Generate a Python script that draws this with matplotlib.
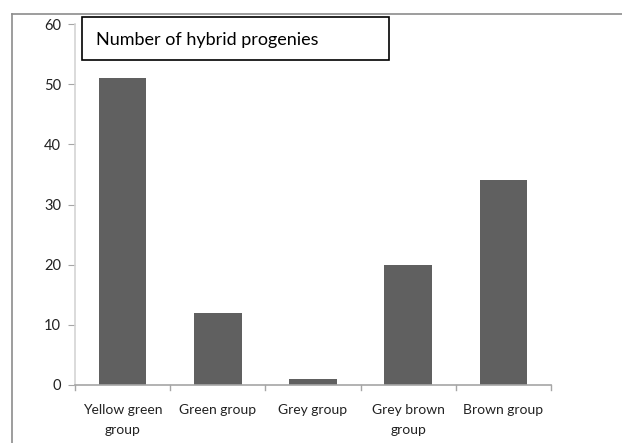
import matplotlib
matplotlib.use("Agg")
import matplotlib.pyplot as plt
from matplotlib.patches import Rectangle
from matplotlib.lines import Line2D

categories = ["Yellow green\ngroup", "Green group", "Grey group", "Grey brown\ngroup", "Brown group"]
counts = [51, 12, 1, 20, 34]
y_ticks = [0, 10, 20, 30, 40, 50, 60]
title = "Number of hybrid progenies"

W, H = 622, 443
plt.rcParams["font.family"] = ["Lato", "DejaVu Sans"]
fig = plt.figure(figsize=(W / 100, H / 100), dpi=100)

# plot area in pixel coordinates
x0, x1 = 75, 551
y_top, y_bot = 24, 385
ax = fig.add_axes([x0 / W, 1 - y_bot / H, (x1 - x0) / W, (y_bot - y_top) / H])

pos = list(range(len(categories)))
ax.bar(pos, counts, width=0.5, color="#606060", zorder=2)
ax.set_xlim(-0.5, len(categories) - 0.5)
ax.set_ylim(0, 60)
ax.set_yticks(y_ticks)
ax.set_yticklabels([str(v) for v in y_ticks], fontsize=10.5, color="#222222")
ax.set_xticks(pos)
ax.set_xticklabels(categories, fontsize=10, color="#222222", linespacing=1.75)
ax.tick_params(axis="x", length=0, pad=14)
ax.tick_params(axis="y", length=5, width=0.8, color="#a6a6a6", pad=5)

# category separator ticks on the x axis
for b in [i - 0.5 for i in range(len(categories) + 1)]:
    ax.plot([b, b], [0, -0.85], color="#a6a6a6", lw=1, clip_on=False, zorder=3)

for s in ["top", "right"]:
    ax.spines[s].set_visible(False)
ax.spines["left"].set_color("#d4d4d4")
ax.spines["left"].set_linewidth(1.2)
ax.spines["bottom"].set_color("#a6a6a6")
ax.spines["bottom"].set_linewidth(1.2)

# chart-area border (left and top edges)
fig.add_artist(Line2D([12 / W, 12 / W], [0, 1 - 14 / H], color="#8c8c8c", lw=1.2))
fig.add_artist(Line2D([12 / W, 1], [1 - 14 / H, 1 - 14 / H], color="#8c8c8c", lw=1.2))

# title box
bx0, bx1, by0, by1 = 82, 389, 17, 60
fig.add_artist(Rectangle((bx0 / W, 1 - by1 / H), (bx1 - bx0) / W, (by1 - by0) / H,
                         transform=fig.transFigure, facecolor="white",
                         edgecolor="black", lw=1.2, zorder=5))
fig.text(96 / W, 1 - 40 / H, title, fontsize=13, ha="left", va="center",
         color="black", zorder=6)

fig.savefig("out.png", dpi=100)
